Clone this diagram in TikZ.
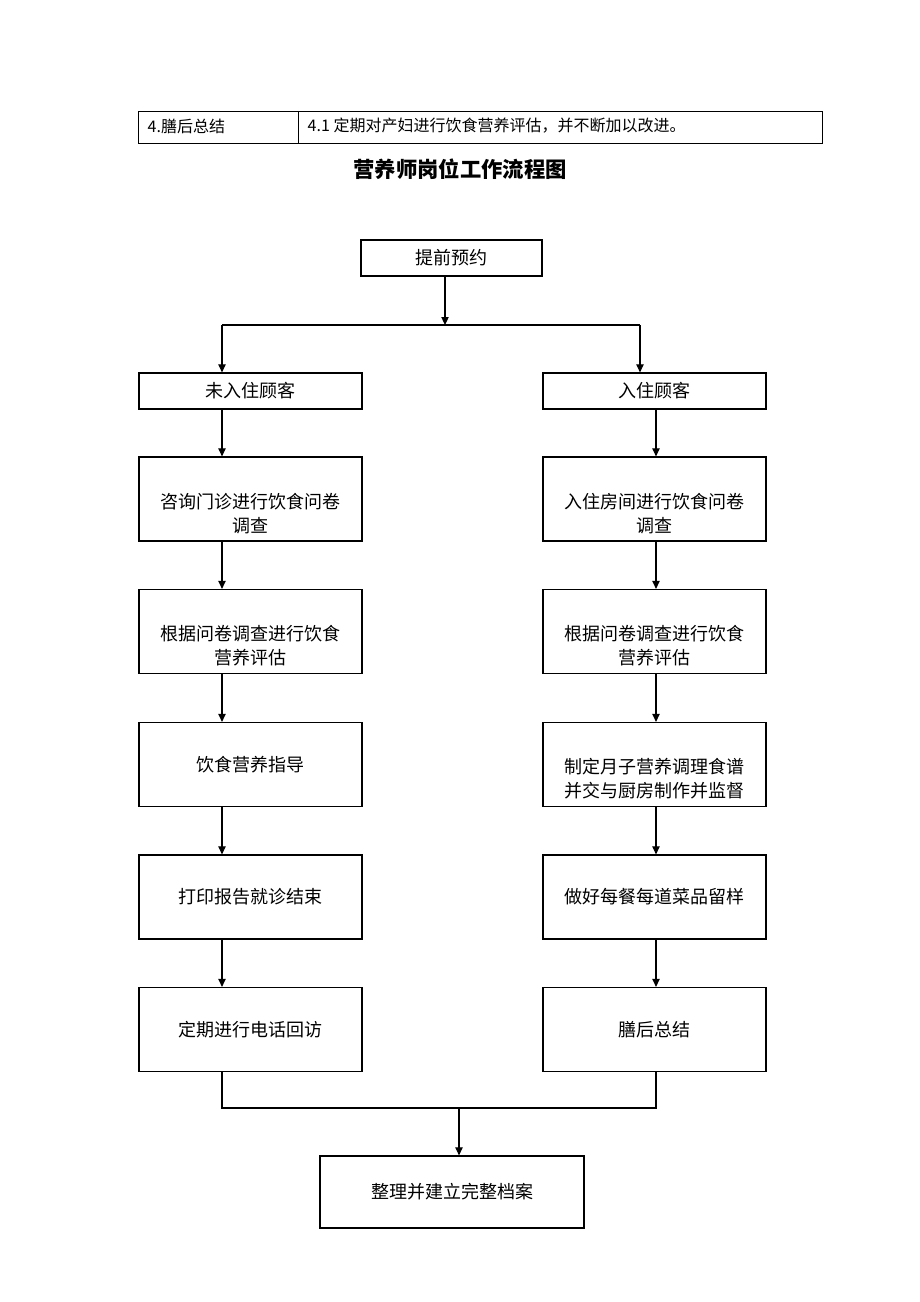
\documentclass[tikz,border=0pt]{standalone}
\usepackage{fontspec}
\setmainfont{Noto Sans CJK SC}
\usepackage{tikz}
\usetikzlibrary{arrows.meta,positioning,calc}
\newcommand{\tallstrut}{\rule{0pt}{33pt}}

\begin{document}
\begin{tikzpicture}[x=0.75pt,y=-0.75pt,
  box/.style={draw,rectangle,line width=0.9pt,align=center,inner sep=2pt,font=\fontsize{13.5}{18}\selectfont},
  sbox/.style={box,minimum width=167.25pt,minimum height=27pt},
  bbox/.style={box,minimum width=167.25pt,minimum height=63pt},
  ln/.style={line width=0.8pt},
  arr/.style={ln,-{Triangle[length=6pt,width=5.5pt]}}]
  \useasboundingbox (0,0) rectangle (920,1302);

  % table row and title
  \draw[line width=0.7pt] (138,111) rectangle (822,143);
  \draw[line width=0.7pt] (298,111) -- (298,143);
  \node[anchor=west,font=\fontsize{12}{14}\selectfont] (t1) at (143,126) {4.膳后总结};
  \node[anchor=west,font=\fontsize{12}{14}\selectfont] (t2) at (303,126) {4.1 定期对产妇进行饮食营养评估，并不断加以改进。};
  \node[font=\fontsize{16}{19}\selectfont\bfseries] (title) at (460,169) {营养师岗位工作流程图};

  \node[box,minimum width=135.75pt,minimum height=27pt] (s) at (451.5,258) {提前预约};

  \node[sbox] (l1) at (250.5,391) {未入住顾客};
  \node[bbox] (l2) at (250.5,499) {\tallstrut 咨询门诊进行饮食问卷\\调查};
  \node[bbox] (l3) at (250.5,631.5) {\tallstrut 根据问卷调查进行饮食\\营养评估};
  \node[bbox] (l4) at (250.5,764.5) {饮食营养指导};
  \node[bbox] (l5) at (250.5,897) {打印报告就诊结束};
  \node[bbox] (l6) at (250.5,1029.5) {定期进行电话回访};

  \node[sbox] (r1) at (654.5,391) {入住顾客};
  \node[bbox] (r2) at (654.5,499) {\tallstrut 入住房间进行饮食问卷\\调查};
  \node[bbox] (r3) at (654.5,631.5) {\tallstrut 根据问卷调查进行饮食\\营养评估};
  \node[bbox] (r4) at (654.5,764.5) {\tallstrut 制定月子营养调理食谱\\并交与厨房制作并监督};
  \node[bbox] (r5) at (654.5,897) {做好每餐每道菜品留样};
  \node[bbox] (r6) at (654.5,1029.5) {膳后总结};

  \node[box,minimum width=198pt,minimum height=54pt] (e) at (452,1192) {整理并建立完整档案};

  \coordinate (j) at (445,325);
  \coordinate (jl) at (222,325);
  \coordinate (jr) at (640,325);
  \coordinate (lx) at (222,0);
  \coordinate (rx) at (656,0);
  \coordinate (jb) at (459,1108);

  \draw[arr] (s.south -| j) -- (j);
  \draw[ln] (jl) -- (jr);
  \draw[arr] (jl) -- (l1.north -| jl);
  \draw[arr] (jr) -- (r1.north -| jr);

  \foreach \a/\b in {l1/l2,l2/l3,l3/l4,l4/l5,l5/l6}
    \draw[arr] (\a.south -| lx) -- (\b.north -| lx);
  \foreach \a/\b in {r1/r2,r2/r3,r3/r4,r4/r5,r5/r6}
    \draw[arr] (\a.south -| rx) -- (\b.north -| rx);

  \draw[ln] (l6.south -| lx) -- (lx |- jb) -- (rx |- jb) -- (r6.south -| rx);
  \draw[arr] (jb) -- (e.north -| jb);
\end{tikzpicture}
\end{document}
